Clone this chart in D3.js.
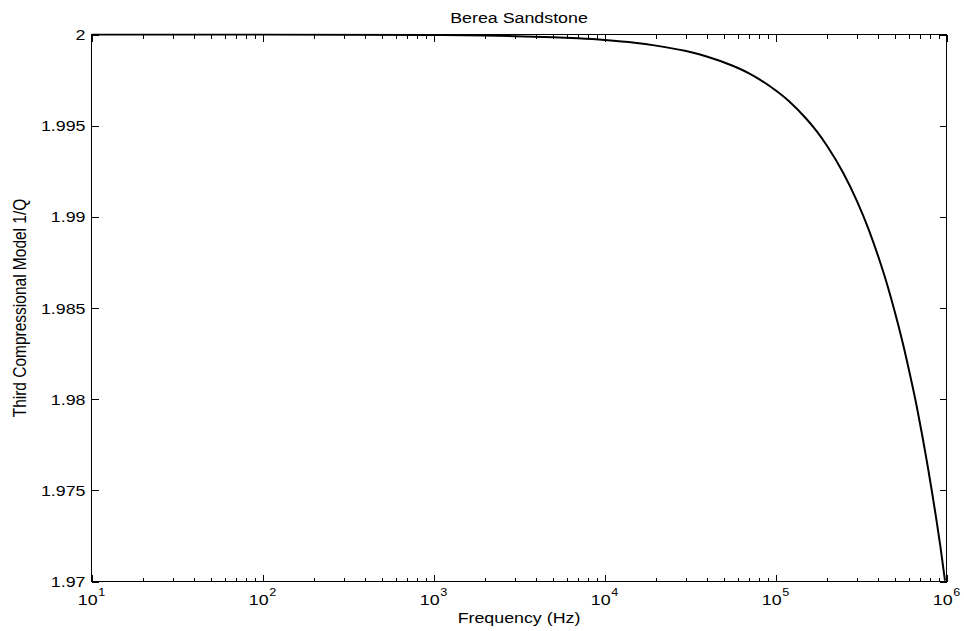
<!DOCTYPE html>
<html><head><meta charset="utf-8">
<script src="https://cdn.jsdelivr.net/npm/d3@7"></script>
<style>
body{margin:0;background:#fff}
svg{display:block}
text{font-family:"Liberation Sans",Arial,Helvetica,sans-serif;fill:#000}
</style>
</head><body>
<svg id="chart" width="964" height="631"></svg>
<script>
// ---- data ----
const frequencies = [10, 100, 1000, 2000, 3000, 5000, 7000, 10000, 15000, 20000, 30000, 40000, 55700, 70000, 81000, 100000, 120000, 150000, 174000, 200000, 250000, 300000, 350000, 403000, 450000, 493000, 550000, 600000, 670000, 720000, 770000, 819000, 870000, 920000, 980000];
const inverseQ    = [2.00000, 1.999997, 1.99997, 1.99994, 1.99991, 1.99985, 1.99979, 1.99970, 1.99955, 1.99939, 1.99909, 1.99878, 1.99830, 1.99787, 1.99753, 1.99694, 1.99634, 1.99542, 1.99470, 1.99390, 1.99238, 1.99085, 1.98933, 1.98770, 1.98628, 1.98496, 1.98323, 1.98170, 1.97960, 1.97805, 1.97652, 1.97502, 1.97348, 1.97195, 1.97005];
const yTickValues = [2, 1.995, 1.99, 1.985, 1.98, 1.975, 1.97];
const yTickLabels = ["2", "1.995", "1.99", "1.985", "1.98", "1.975", "1.97"];
const xMajorExponents = [1, 2, 3, 4, 5, 6];
const chartTitle = "Berea Sandstone";
const xAxisTitle = "Frequency (Hz)";
const yAxisTitle = "Third Compressional Model 1/Q";

// ---- layout ----
const W = 964, H = 631;
const L = 91.5, R = 946.5, T = 34.5, B = 581.5;
const FS = 15.5, SX = 1.15;   // font size and horizontal stretch of the original raster

const svg = d3.select("#chart");
const x = d3.scaleLog().domain([1e1, 1e6]).range([L, R]);
const y = d3.scaleLinear().domain([1.97, 2]).range([B, T]);

const majorX = xMajorExponents.map(e => Math.pow(10, e));
const minorX = [];
xMajorExponents.slice(0, -1).forEach(e => { for (let k = 2; k <= 9; k++) minorX.push(k * Math.pow(10, e)); });

// clip
svg.append("defs").append("clipPath").attr("id", "clip")
  .append("rect").attr("x", L).attr("y", T - 1).attr("width", R - L).attr("height", B - T + 1);

// ticks (inward, on all four sides)
const g = svg.append("g").attr("stroke", "#000").attr("stroke-width", 1).attr("shape-rendering", "crispEdges");
function xticks(vals, len) {
  g.selectAll(null).data(vals).enter().append("line")
    .attr("x1", d => Math.round(x(d)) + 0.5).attr("x2", d => Math.round(x(d)) + 0.5)
    .attr("y1", B).attr("y2", B - len);
  g.selectAll(null).data(vals).enter().append("line")
    .attr("x1", d => Math.round(x(d)) + 0.5).attr("x2", d => Math.round(x(d)) + 0.5)
    .attr("y1", T).attr("y2", T + len);
}
xticks(minorX, 4);
xticks(majorX, 7);
g.selectAll(null).data(yTickValues).enter().append("line")
  .attr("x1", L).attr("x2", L + 7)
  .attr("y1", d => Math.round(y(d)) + 0.5).attr("y2", d => Math.round(y(d)) + 0.5);
g.selectAll(null).data(yTickValues).enter().append("line")
  .attr("x1", R).attr("x2", R - 7)
  .attr("y1", d => Math.round(y(d)) + 0.5).attr("y2", d => Math.round(y(d)) + 0.5);

// box
svg.append("rect").attr("x", L).attr("y", T).attr("width", R - L).attr("height", B - T)
  .attr("fill", "none").attr("stroke", "#000").attr("stroke-width", 1).attr("shape-rendering", "crispEdges");

// curve
const line = d3.line().x((d, i) => x(frequencies[i])).y(d => y(d)).curve(d3.curveMonotoneX);
svg.append("path").datum(inverseQ).attr("d", line)
  .attr("clip-path", "url(#clip)")
  .attr("fill", "none").attr("stroke", "#000").attr("stroke-width", 2).attr("stroke-linejoin", "round");

// y tick labels
svg.append("g").selectAll("text").data(yTickValues).enter().append("text")
  .attr("transform", d => `translate(${L - 6},${y(d)}) scale(${SX},1)`)
  .attr("dy", "0.36em")
  .attr("text-anchor", "end").attr("font-size", FS)
  .text((d, i) => yTickLabels[i]);

// x tick labels: 10^n
const xl = svg.append("g").selectAll("text").data(xMajorExponents).enter().append("text")
  .attr("transform", e => `translate(${x(Math.pow(10, e))},605) scale(${SX},1)`)
  .attr("text-anchor", "middle").attr("font-size", FS);
xl.append("tspan").text("10");
xl.append("tspan").attr("font-size", 11).attr("dy", -9).attr("dx", 0.5).text(e => String(e));

// titles
svg.append("text").attr("transform", `translate(${(L + R) / 2},22.5) scale(${SX},1)`)
  .attr("text-anchor", "middle").attr("font-size", FS).text(chartTitle);
svg.append("text").attr("transform", `translate(${(L + R) / 2},623) scale(${SX},1)`)
  .attr("text-anchor", "middle").attr("font-size", FS).text(xAxisTitle);
svg.append("text").attr("transform", `translate(26,${(T + B) / 2}) scale(${SX},1) rotate(-90)`)
  .attr("text-anchor", "middle").attr("font-size", FS).text(yAxisTitle);
</script>
</body></html>
